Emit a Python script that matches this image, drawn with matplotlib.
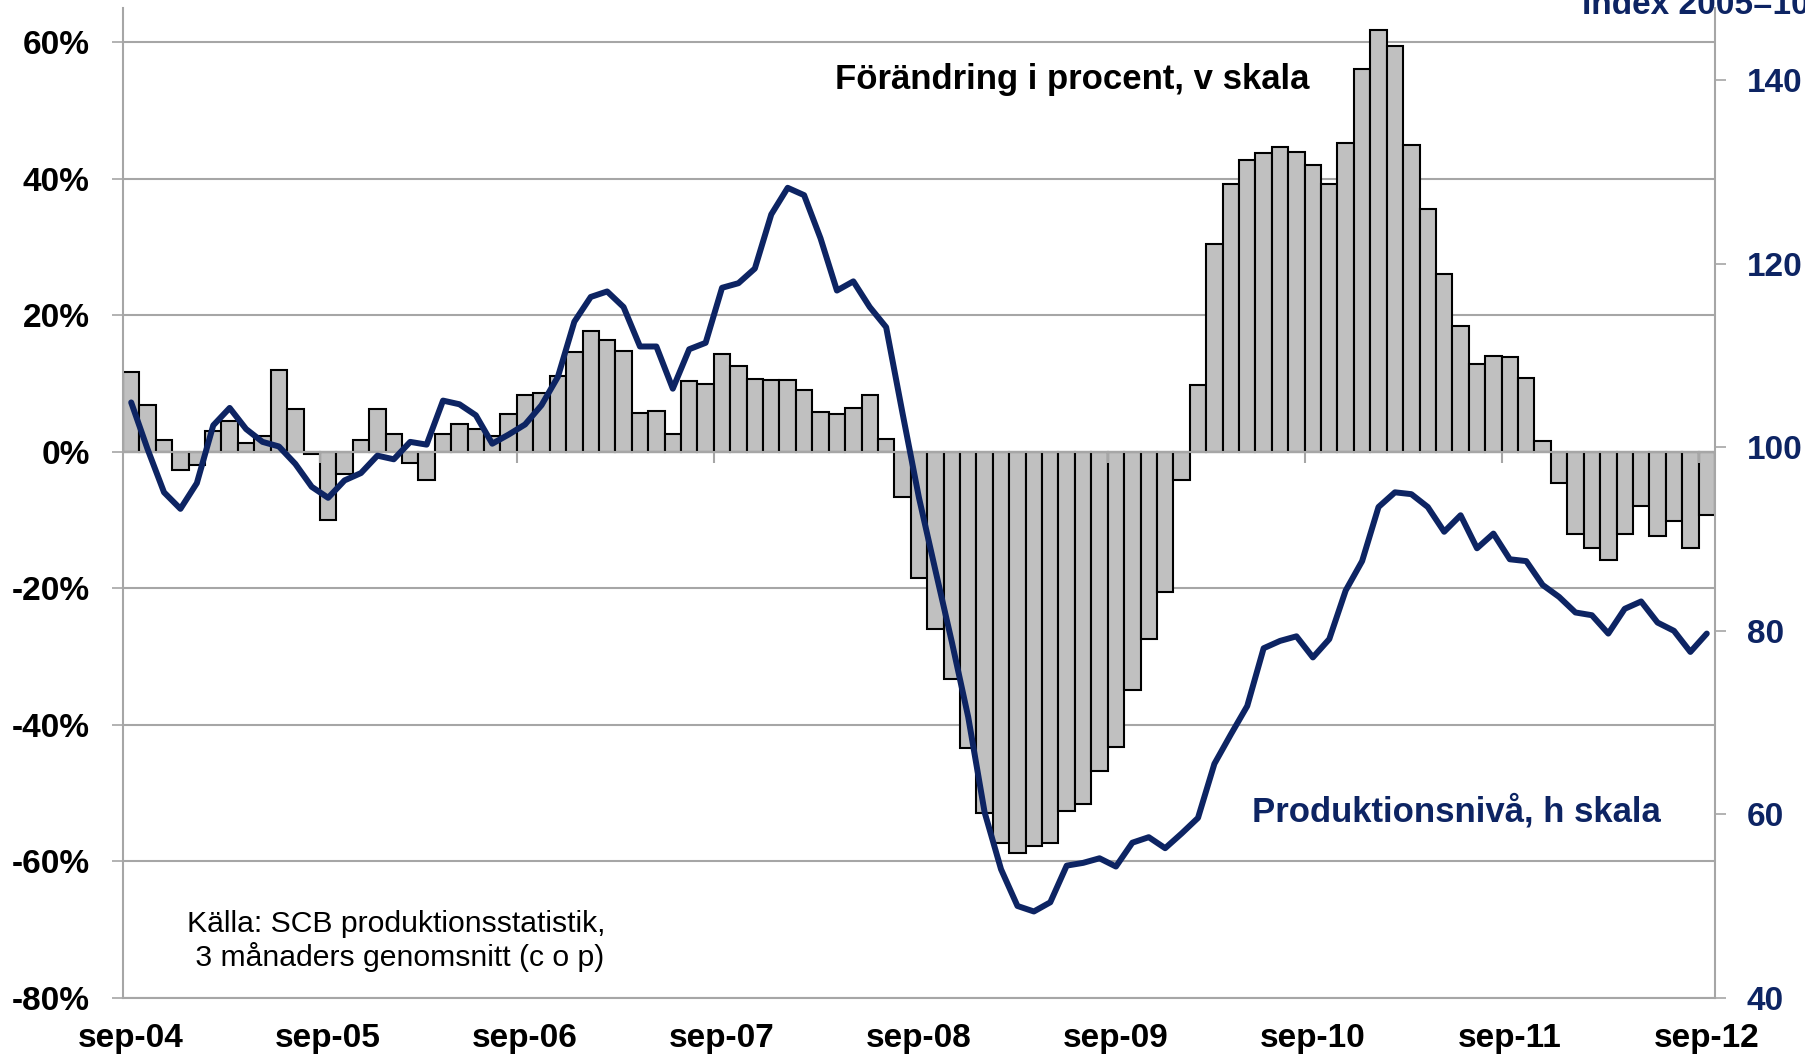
import numpy as np
from matplotlib import pyplot as plt

plt.rcParams['font.family'] = ['Liberation Sans', 'DejaVu Sans']

# Förändring i procent (3 mån genomsnitt), sep-04 .. sep-12
pct_change = [11.7, 6.8, 1.7, -2.7, -2.0, 3.0, 4.5, 1.2, 2.3, 11.9, 6.2, -0.3,
              -10.0, -3.2, 1.7, 6.2, 2.6, -1.7, -4.1, 2.6, 4.1, 3.3, 2.3, 5.5,
              8.3, 8.6, 11.1, 14.6, 17.7, 16.3, 14.8, 5.6, 6.0, 2.6, 10.3, 9.9,
              14.3, 12.5, 10.6, 10.5, 10.5, 9.0, 5.8, 5.5, 6.4, 8.3, 1.9, -6.7,
              -18.5, -26.0, -33.3, -43.4, -53.0, -57.3, -58.8, -57.8, -57.3, -52.7, -51.6, -46.8,
              -43.3, -34.9, -27.5, -20.6, -4.2, 9.7, 30.5, 39.2, 42.7, 43.7, 44.6, 43.9,
              42.0, 39.2, 45.2, 56.0, 61.8, 59.5, 44.9, 35.6, 26.0, 18.4, 12.8, 14.0,
              13.8, 10.8, 1.6, -4.6, -12.1, -14.1, -15.8, -12.1, -8.0, -12.4, -10.1, -14.1,
              -9.3]

# Produktionsnivå, index 2005=100
prod_level = [104.9, 99.8, 95.1, 93.3, 96.1, 102.4, 104.3, 102.0, 100.6, 100.1, 98.2, 95.7,
              94.5, 96.4, 97.2, 99.1, 98.7, 100.6, 100.3, 105.1, 104.7, 103.5, 100.4, 101.4,
              102.5, 104.6, 107.7, 113.7, 116.4, 117.0, 115.3, 111.0, 111.0, 106.4, 110.7, 111.4,
              117.4, 117.9, 119.5, 125.4, 128.3, 127.5, 122.8, 117.1, 118.1, 115.3, 113.1, 103.7,
              94.5, 86.6, 78.8, 70.6, 60.2, 54.0, 50.0, 49.4, 50.4, 54.4, 54.7, 55.2,
              54.3, 56.9, 57.5, 56.3, 57.9, 59.6, 65.5, 68.7, 71.8, 78.1, 78.9, 79.4,
              77.1, 79.1, 84.4, 87.6, 93.5, 95.1, 94.9, 93.5, 90.8, 92.6, 89.0, 90.6,
              87.8, 87.6, 85.0, 83.7, 82.0, 81.7, 79.7, 82.4, 83.2, 80.9, 80.0, 77.7,
              79.7]

xlabels = ["sep-04", "sep-05", "sep-06", "sep-07", "sep-08",
           "sep-09", "sep-10", "sep-11", "sep-12"]
left_ticks = [-80, -60, -40, -20, 0, 20, 40, 60]
right_ticks = [40, 60, 80, 100, 120, 140]

NAVY = '#0D2463'
GRID = '#A6A6A6'

x = np.arange(len(pct_change))

fig = plt.figure(figsize=(18.06, 10.58), dpi=100)
ax = fig.add_axes([0.0681, 0.0570, 0.8815, 0.9354])

ax.bar(x, pct_change, width=1.0, color='#C0C0C0', edgecolor='black', linewidth=1.5, zorder=2)
ax.axhline(0, color=GRID, linewidth=1.5, zorder=2.5)
ax.vlines(np.arange(11.5, 96, 12), -1.6, 0, color=GRID, linewidth=1.5, zorder=2.5)

ax.set_xlim(-0.5, len(pct_change) - 0.5)
ax.set_ylim(-80, 65)
ax.set_axisbelow(True)
ax.yaxis.grid(True, color=GRID, linewidth=1.5)
ax.set_yticks(left_ticks, [f"{v}%" for v in left_ticks])
ax.set_xticks(np.arange(0, 97, 12), xlabels)
ax.tick_params(axis='x', length=0, pad=18, labelsize=24)
ax.tick_params(axis='y', length=8, width=1.2, color=GRID, pad=16, labelsize=24)
for lab in ax.get_xticklabels() + ax.get_yticklabels():
    lab.set_fontweight('bold')

for side in ['top', 'right']:
    ax.spines[side].set_visible(False)
for side in ['left', 'bottom']:
    ax.spines[side].set_color(GRID)
    ax.spines[side].set_linewidth(1.5)

ax2 = ax.twinx()
ax2.plot(x, prod_level, color=NAVY, linewidth=4.3, solid_joinstyle='round', solid_capstyle='round')
ax2.set_ylim(40, 147.9)
ax2.set_yticks(right_ticks)
ax2.tick_params(axis='y', length=8, width=1.2, color=GRID, pad=15, labelsize=24, labelcolor=NAVY)
for lab in ax2.get_yticklabels():
    lab.set_fontweight('bold')
for side in ['top', 'left', 'bottom']:
    ax2.spines[side].set_visible(False)
ax2.spines['right'].set_color(GRID)
ax2.spines['right'].set_linewidth(1.5)

ax.text(42.9, 53.2, "Förändring i procent, v skala", fontsize=25, fontweight='bold',
        color='black', ha='left', va='baseline', zorder=5)
ax.text(68.3, -54.2, "Produktionsnivå, h skala", fontsize=25, fontweight='bold',
        color=NAVY, ha='left', va='baseline', zorder=5)
ax.text(0.04, 0.0573, "Källa: SCB produktionsstatistik,\n 3 månaders genomsnitt (c o p)",
        transform=ax.transAxes, fontsize=21.7, ha='left', va='center', linespacing=1.15)
fig.text(1581.7 / 1806, 1 - 14 / 1058, "Index 2005=100", fontsize=24, fontweight='bold',
         color=NAVY, ha='left', va='baseline')

fig.savefig('out.png', dpi=100)
